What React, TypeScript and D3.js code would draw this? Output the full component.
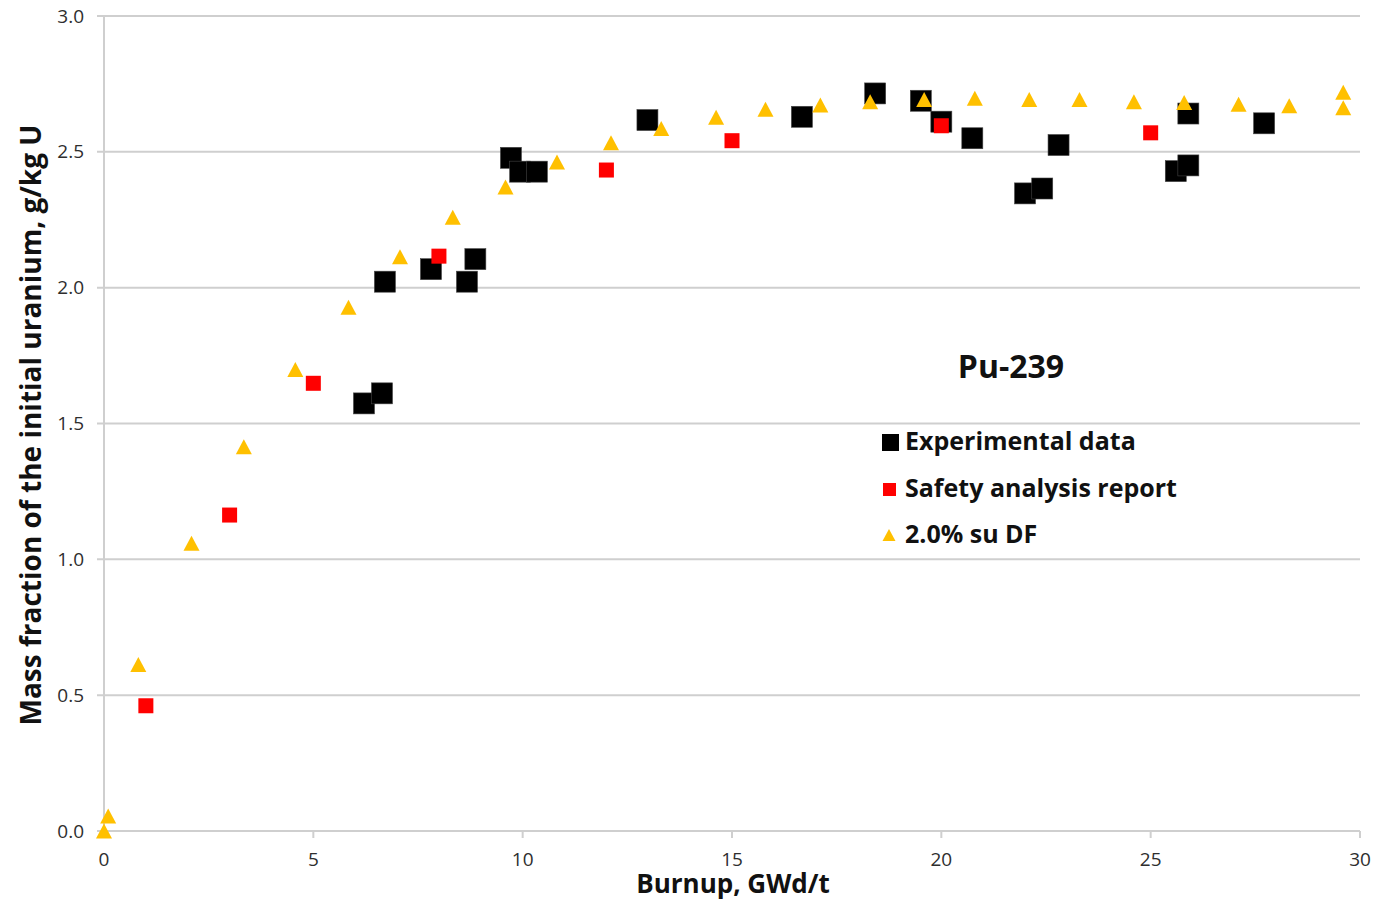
import { useEffect } from "react";
import * as d3 from "d3";

// Experimental data (black squares)
const expX = [6.21, 6.64, 6.71, 7.81, 8.67, 8.87, 9.72, 9.94, 10.34, 12.98, 16.67, 18.42, 19.51, 20.0, 20.74, 22.0, 22.41, 22.8, 25.6, 25.9, 25.9, 27.71];
const expY = [1.574, 1.611, 2.022, 2.068, 2.022, 2.105, 2.478, 2.427, 2.427, 2.617, 2.629, 2.715, 2.688, 2.611, 2.55, 2.347, 2.365, 2.525, 2.429, 2.45, 2.641, 2.605];

// Safety analysis report (red squares)
const sarX = [1, 3, 5, 8, 12, 15, 20, 25];
const sarY = [0.461, 1.163, 1.648, 2.116, 2.433, 2.541, 2.596, 2.57];

// 2.0% su DF (yellow triangles)
const dfX = [0, 0.1, 0.82, 2.09, 3.34, 4.57, 5.84, 7.07, 8.33, 9.59, 10.82, 12.11, 13.31, 14.62, 15.8, 17.11, 18.3, 19.59, 20.8, 22.1, 23.3, 24.6, 25.8, 27.1, 28.31, 29.6, 29.6];
const dfY = [0.0, 0.055, 0.613, 1.059, 1.414, 1.699, 1.928, 2.114, 2.259, 2.371, 2.463, 2.533, 2.586, 2.627, 2.657, 2.672, 2.684, 2.693, 2.697, 2.693, 2.693, 2.684, 2.682, 2.675, 2.67, 2.719, 2.662];

const xTicks = [0, 5, 10, 15, 20, 25, 30];
const yTicks = [0, 0.5, 1.0, 1.5, 2.0, 2.5, 3.0];

const legendItems = ["Experimental data", "Safety analysis report", "2.0% su DF"];

const W = 1378;
const H = 901;
const FONT = "'Open Sans', 'DejaVu Sans', sans-serif";
const GRID = "#cfcfcf";

const tri = (cx: number, cy: number, w: number, h: number) =>
  `M${cx},${cy - h / 2}L${cx + w / 2},${cy + h / 2}L${cx - w / 2},${cy + h / 2}Z`;

export default function App() {
  useEffect(() => {
    document.body.style.margin = "0";
    document.body.style.background = "#fff";
  }, []);

  const x = d3.scaleLinear().domain([0, 30]).range([104, 1360]);
  const y = d3.scaleLinear().domain([0, 3]).range([831, 16]);

  const exp = expX.map((v, i) => ({ x: v, y: expY[i] }));
  const sar = sarX.map((v, i) => ({ x: v, y: sarY[i] }));
  const df = dfX.map((v, i) => ({ x: v, y: dfY[i] }));

  return (
    <svg width={W} height={H} style={{ display: "block", background: "#fff" }} fontFamily={FONT}>
      {/* horizontal grid + y ticks */}
      {yTicks.map((t) => (
        <g key={"y" + t}>
          <line x1={97} x2={x(30)} y1={y(t)} y2={y(t)} stroke={GRID} strokeWidth={2} />
          <text x={84} y={y(t) + 6.5} textAnchor="end" fontSize={19} fill="#2e2e2e">
            {t.toFixed(1)}
          </text>
        </g>
      ))}
      {/* y axis line */}
      <line x1={x(0)} x2={x(0)} y1={y(3)} y2={y(0)} stroke={GRID} strokeWidth={2} />
      {/* x ticks */}
      {xTicks.map((t) => (
        <g key={"x" + t}>
          <line x1={x(t)} x2={x(t)} y1={y(0)} y2={y(0) + 7} stroke={GRID} strokeWidth={2} />
          <text x={x(t)} y={866} textAnchor="middle" fontSize={19} fill="#2e2e2e">
            {t}
          </text>
        </g>
      ))}

      {/* axis titles */}
      <text x={733} y={893} textAnchor="middle" fontSize={26} fontWeight="bold" fill="#111">
        Burnup, GWd/t
      </text>
      <text
        transform="translate(41,425) rotate(-90)"
        textAnchor="middle"
        fontSize={28}
        fontWeight="bold"
        fill="#111"
      >
        Mass fraction of the initial uranium, g/kg U
      </text>

      {/* experimental */}
      {exp.map((d, i) => (
        <rect key={"e" + i} x={x(d.x) - 10.5} y={y(d.y) - 10.5} width={21} height={21} fill="#000" stroke="#444" strokeWidth={0.6} />
      ))}
      {/* safety analysis report */}
      {sar.map((d, i) => (
        <rect key={"s" + i} x={x(d.x) - 7.5} y={y(d.y) - 7.5} width={15} height={15} fill="#ff0000" />
      ))}
      {/* 2.0% su DF */}
      {df.map((d, i) => (
        <path key={"d" + i} d={tri(x(d.x), y(d.y), 16, 15)} fill="#ffc000" />
      ))}

      {/* annotation + legend */}
      <text x={1011} y={378} textAnchor="middle" fontSize={32} fontWeight="bold" fill="#111">
        Pu-239
      </text>
      <rect x={882} y={434} width={17} height={17} fill="#000" />
      <rect x={883} y={483} width={13} height={13} fill="#ff0000" />
      <path d={tri(889, 535, 13, 12)} fill="#ffc000" />
      {legendItems.map((s, i) => (
        <text key={s} x={905} y={450 + i * 46.5} fontSize={25} fontWeight="bold" fill="#111">
          {s}
        </text>
      ))}
    </svg>
  );
}
